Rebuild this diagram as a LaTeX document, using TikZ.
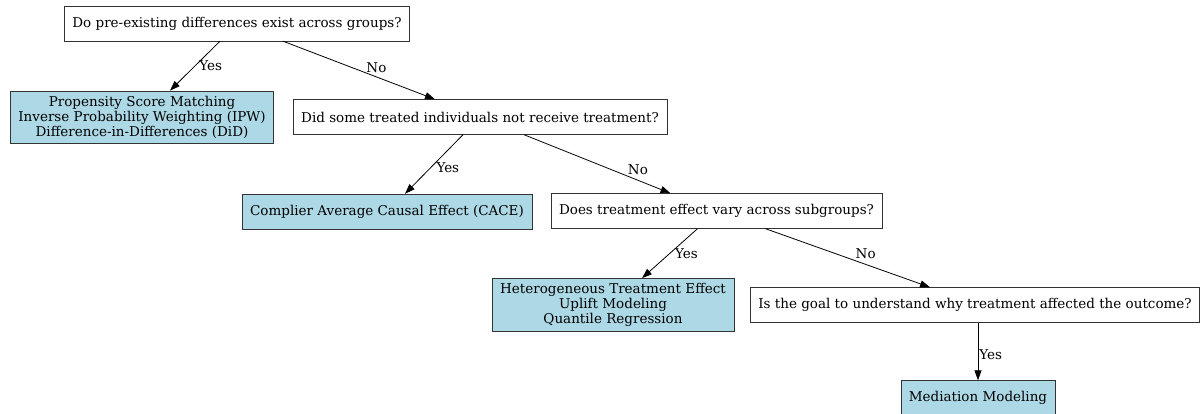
\documentclass[tikz,border=0pt]{standalone}
\usepackage{fontspec}
\setmainfont{DejaVu Serif}
\usetikzlibrary{arrows.meta}
\definecolor{leafblue}{HTML}{ADD8E6}
\tikzset{
  question/.style={draw=black!80, fill=white, minimum height=35pt, inner xsep=8pt, font=\fontsize{13.5}{15}\selectfont},
  answer/.style={question, fill=leafblue, align=center, inner ysep=5pt},
  link/.style={-{Triangle[length=10pt,width=7pt]}, line width=0.8pt},
  lbl/.style={font=\fontsize{13.5}{15}\selectfont, inner sep=1pt}
}
\begin{document}
\begin{tikzpicture}[x=1pt, y=-1pt]
\useasboundingbox (0,0) rectangle (1201,414);

% the questions
\node[question] (pre) at (237,23.5) {Do pre-existing differences exist across groups?};
\node[question] (noncomp) at (480,117) {Did some treated individuals not receive treatment?};
\node[question] (vary) at (716.5,211) {Does treatment effect vary across subgroups?};
\node[question] (why) at (975,305) {Is the goal to understand why treatment affected the outcome?};

% the methods
\node[answer] (match) at (142,117) {Propensity Score Matching\\Inverse Probability Weighting (IPW)\\Difference-in-Differences (DiD)};
\node[answer] (cace) at (387,211.5) {Complier Average Causal Effect (CACE)};
\node[answer] (hte) at (613,305) {Heterogeneous Treatment Effect\\Uplift Modeling\\Quantile Regression};
\node[answer] (med) at (978,398) {Mediation Modeling};

% yes / no branches
\draw[link] ([xshift=-17pt]pre.south) -- ([xshift=28pt]match.north) node[lbl, pos=0.5, right, xshift=3pt] {Yes};
\draw[link] ([xshift=46pt]pre.south) -- ([xshift=-45pt]noncomp.north) node[lbl, pos=0.54, above right, yshift=-2pt] {No};

\draw[link] ([xshift=-17pt]noncomp.south) -- ([xshift=18pt]cace.north) node[lbl, pos=0.55, right, xshift=4pt] {Yes};
\draw[link] ([xshift=44pt]noncomp.south) -- ([xshift=-46pt]vary.north) node[lbl, pos=0.7, above right] {No};

\draw[link] ([xshift=-19pt]vary.south) -- ([xshift=29pt]hte.north) node[lbl, pos=0.5, right, xshift=4pt] {Yes};
\draw[link] ([xshift=49pt]vary.south) -- ([xshift=-45pt]why.north) node[lbl, pos=0.54, above right] {No};

\draw[link] ([xshift=3pt]why.south) -- (med.north) node[lbl, pos=0.55, right] {Yes};

\end{tikzpicture}
\end{document}
